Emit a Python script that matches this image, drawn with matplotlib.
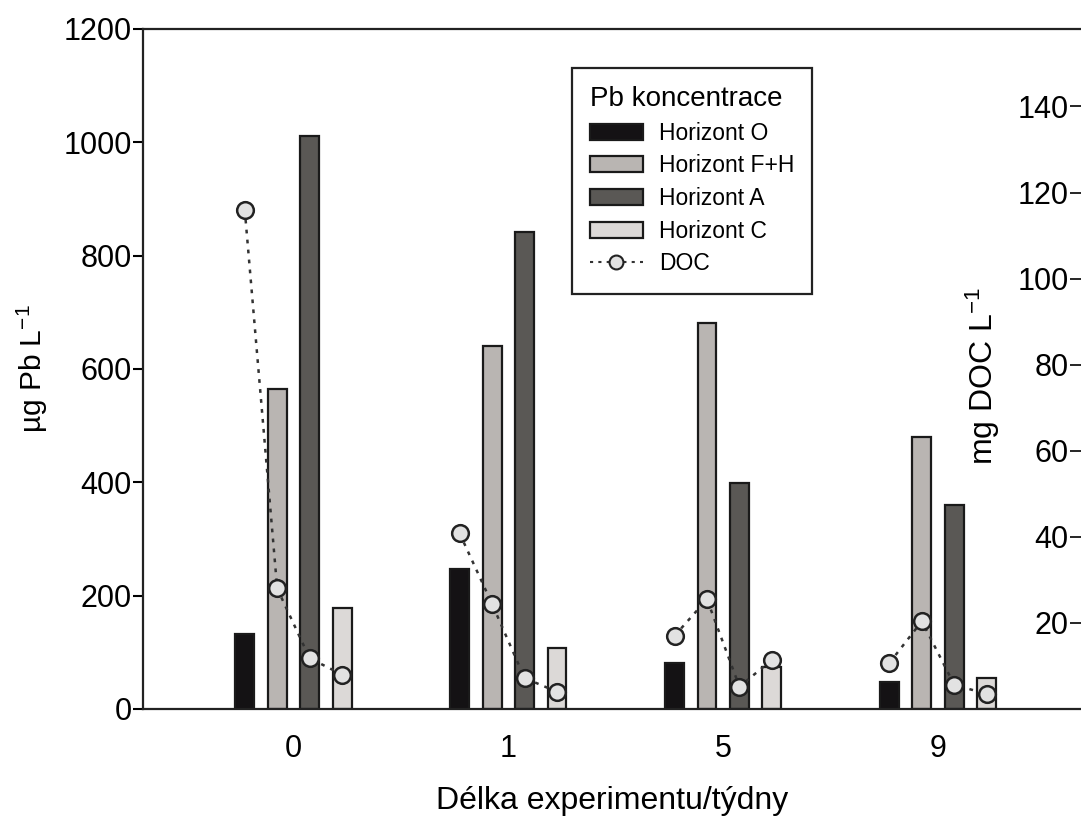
import numpy as np
import matplotlib
matplotlib.use("Agg")
import matplotlib.pyplot as plt
from matplotlib.patches import Patch
from matplotlib.lines import Line2D

plt.rcParams['font.family'] = ['Liberation Sans', 'DejaVu Sans']
plt.rcParams['mathtext.fontset'] = 'custom'
plt.rcParams['mathtext.rm'] = 'Liberation Sans'
plt.rcParams['mathtext.it'] = 'Liberation Sans:italic'
plt.rcParams['mathtext.bf'] = 'Liberation Sans:bold'

# ---- data ----
weeks = ['0', '1', '5', '9']
series_names = ['Horizont O', 'Horizont F+H', 'Horizont A', 'Horizont C']
pb_O = [132, 247, 81, 48]
pb_FH = [565, 640, 682, 480]
pb_A = [1011, 842, 398, 360]
pb_C = [179, 108, 74, 55]
doc_O = [116, 40.8, 17, 10.7]
doc_FH = [28, 24.4, 25.5, 20.4]
doc_A = [11.8, 7.2, 5.2, 5.6]
doc_C = [8, 4, 11.4, 3.5]
left_ticks = [0, 200, 400, 600, 800, 1000, 1200]
right_ticks = [20, 40, 60, 80, 100, 120, 140]

colors = ['#141214', '#b9b5b2', '#5a5855', '#dcd9d7']
pb_series = [pb_O, pb_FH, pb_A, pb_C]
doc_series = [doc_O, doc_FH, doc_A, doc_C]

fig = plt.figure(figsize=(10.81, 8.16), dpi=100)
ax = fig.add_axes([143/1081, 1 - 709/816, 1 - 143/1081, (709 - 29)/816])
ax2 = ax.twinx()

x = np.arange(len(weeks))
offsets = np.array([-1.5, -0.5, 0.5, 1.5]) * 0.151
width = 0.088

for i, (vals, c) in enumerate(zip(pb_series, colors)):
    ax.bar(x + offsets[i], vals, width, color=c, edgecolor='#1a1a1a', linewidth=1.6, zorder=2)

doc_arr = np.array(doc_series)  # shape (4 horizons, 4 weeks)
for g in range(len(weeks)):
    ax2.plot(x[g] + offsets, doc_arr[:, g], linestyle=(0, (1.5, 2.5)), color='#333333',
             linewidth=1.8, marker='o', markersize=12, markerfacecolor='#e2e2e2',
             markeredgecolor='#222222', markeredgewidth=1.8, zorder=3)

ax.set_xlim(-0.70, 3.665)
ax.set_ylim(0, 1200)
ax2.set_ylim(0, 158)
ax.set_xticks(x)
ax.set_xticklabels(weeks)
ax.set_yticks(left_ticks)
ax.tick_params(axis='x', length=0, labelsize=22, pad=18)
ax.tick_params(axis='y', length=7, width=1.5, labelsize=22, pad=1, direction='out')

ax2.set_yticks(right_ticks)
ax2.tick_params(axis='y', length=8, width=1.2, labelsize=22, direction='in', pad=-9)
for t in ax2.yaxis.get_major_ticks():
    t.label2.set_horizontalalignment('right')

for sp in ['left', 'bottom', 'top']:
    ax.spines[sp].set_linewidth(1.6)
    ax.spines[sp].set_color('#222222')
ax.spines['right'].set_visible(False)
ax2.spines['right'].set_visible(False)
ax2.spines['left'].set_visible(False)
ax2.spines['top'].set_visible(False)
ax2.spines['bottom'].set_visible(False)

ax.set_xlabel('Délka experimentu/týdny', fontsize=23, labelpad=16)
ax.set_ylabel('µg Pb L$^{-1}$', fontsize=21.5, labelpad=10)
ax2.set_ylabel('mg DOC L$^{-1}$', fontsize=23)
ax2.yaxis.set_label_coords(0.875, 0.49)

handles = [Patch(facecolor=c, edgecolor='#1a1a1a', linewidth=1.6) for c in colors]
handles.append(Line2D([0], [0], linestyle=(0, (1.5, 2.5)), color='#333333', linewidth=1.5,
                      marker='o', markersize=10, markerfacecolor='#e2e2e2',
                      markeredgecolor='#222222', markeredgewidth=1.5))
labels = series_names + ['DOC']
leg = ax.legend(handles, labels, title='Pb koncentrace', loc='upper left',
                bbox_to_anchor=(0.457, 0.943), borderaxespad=0, fontsize=16.5,
                title_fontsize=20, fancybox=False, framealpha=1, edgecolor='#222222',
                handlelength=2.3, handleheight=0.7, labelspacing=0.42, alignment='left',
                borderpad=0.8, handletextpad=0.7)
leg.get_frame().set_linewidth(1.6)
leg.set_zorder(5)

fig.savefig('out.png', dpi=100)
